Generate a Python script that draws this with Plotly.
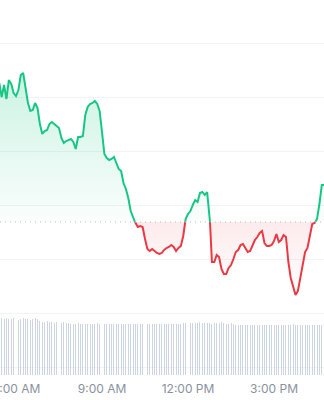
import datetime as dt
import plotly.graph_objects as go

# ---- data (5-minute samples) ----
start_time = dt.datetime(2024, 5, 14, 5, 25)
step_minutes = 5

prices = [
    3230, 3216, 3228, 3214, 3233, 3229, 3220, 3217, 3223, 3238,
    3240, 3227, 3210, 3202, 3203, 3210, 3205, 3189, 3179, 3182,
    3183, 3189, 3191, 3189, 3187, 3185, 3175, 3170, 3172, 3173,
    3174, 3171, 3164, 3176, 3176, 3177, 3198, 3206, 3209, 3210,
    3212, 3209, 3202, 3181, 3159, 3155, 3153, 3154, 3156, 3150,
    3144, 3142, 3130, 3124, 3115, 3102, 3095, 3090, 3086, 3087,
    3086, 3074, 3064, 3062, 3064, 3062, 3060, 3059, 3060, 3063,
    3065, 3066, 3068, 3066, 3062, 3065, 3067, 3077, 3094, 3099,
    3102, 3108, 3113, 3111, 3120, 3121, 3118, 3121, 3101, 3051,
    3051, 3058, 3056, 3044, 3039, 3039, 3045, 3048, 3054, 3061,
    3063, 3068, 3069, 3065, 3061, 3062, 3067, 3073, 3076, 3080,
    3082, 3070, 3067, 3067, 3068, 3072, 3079, 3071, 3073, 3078,
    3076, 3051, 3035, 3025, 3018, 3022, 3036, 3048, 3061, 3065,
    3076, 3089, 3090, 3094, 3109, 3128, 3128,
]

volumes = [
    56, 57, 56, 57, 56, 56, 57, 56, 55, 56,
    57, 56, 56, 55, 56, 57, 56, 54, 53, 53,
    54, 53, 53, 52, 53, 53, 52, 53, 52, 52,
    51, 51, 51, 52, 51, 51, 51, 51, 51, 51,
    51, 52, 51, 51, 51, 51, 51, 51, 51, 51,
    51, 51, 51, 51, 51, 51, 51, 51, 51, 51,
    51, 51, 51, 51, 51, 51, 51, 51, 51, 51,
    51, 51, 51, 51, 51, 51, 51, 52, 52, 53,
    52, 52, 52, 52, 53, 52, 52, 52, 52, 51,
    52, 52, 52, 53, 52, 51, 51, 52, 51, 50,
    50, 50, 50, 50, 50, 50, 50, 50, 50, 50,
    50, 50, 50, 50, 50, 50, 50, 50, 50, 50,
    50, 50, 50, 51, 50, 50, 50, 50, 50, 50,
    50, 50, 50, 50, 50, 50, 50,
]

base_price = 3091

tick_times = ["2024-05-14 06:00", "2024-05-14 09:00", "2024-05-14 12:00", "2024-05-14 15:00"]
tick_labels = ["6:00 AM", "9:00 AM", "12:00 PM", "3:00 PM"]

x_range = ["2024-05-14 05:26:30", "2024-05-14 16:44:36"]

GREEN = "#16c784"
RED = "#ea3943"

times = [start_time + dt.timedelta(minutes=step_minutes * i) for i in range(len(prices))]

# insert exact crossing points with the base line so colours switch cleanly
xs, ys = [times[0]], [prices[0]]
for i in range(1, len(prices)):
    p0, p1 = prices[i - 1], prices[i]
    if (p0 - base_price) * (p1 - base_price) < 0:
        f = (base_price - p0) / (p1 - p0)
        xs.append(times[i - 1] + (times[i] - times[i - 1]) * f)
        ys.append(base_price)
    xs.append(times[i])
    ys.append(p1)

up_line = [y if y >= base_price else None for y in ys]
dn_line = [y if y <= base_price else None for y in ys]
up_fill = [max(y, base_price) for y in ys]
dn_fill = [min(y, base_price) for y in ys]
base_arr = [base_price] * len(xs)

fig = go.Figure()

# fills
fig.add_trace(go.Scatter(x=xs, y=base_arr, mode="lines", line=dict(width=0),
                         hoverinfo="skip", showlegend=False))
fig.add_trace(go.Scatter(x=xs, y=up_fill, mode="lines", line=dict(width=0),
                         fill="tonexty",
                         fillgradient=dict(type="vertical",
                                           colorscale=[[0, "rgba(22,199,132,0.02)"],
                                                       [1, "rgba(22,199,132,0.22)"]],
                                           start=base_price, stop=max(prices)),
                         hoverinfo="skip", showlegend=False))
fig.add_trace(go.Scatter(x=xs, y=base_arr, mode="lines", line=dict(width=0),
                         hoverinfo="skip", showlegend=False))
fig.add_trace(go.Scatter(x=xs, y=dn_fill, mode="lines", line=dict(width=0),
                         fill="tonexty",
                         fillgradient=dict(type="vertical",
                                           colorscale=[[0, "rgba(234,57,67,0.0)"],
                                                       [1, "rgba(234,57,67,0.10)"]],
                                           start=min(prices), stop=base_price),
                         hoverinfo="skip", showlegend=False))

# dotted base line
fig.add_shape(type="line", xref="paper", x0=0, x1=1, yref="y", y0=base_price, y1=base_price,
              line=dict(color="#b8bdc6", width=1, dash="1px,4px"))

# price lines
fig.add_trace(go.Scatter(x=xs, y=up_line, mode="lines", connectgaps=False,
                         line=dict(color=GREEN, width=2), hoverinfo="skip", showlegend=False))
fig.add_trace(go.Scatter(x=xs, y=dn_line, mode="lines", connectgaps=False,
                         line=dict(color=RED, width=2), hoverinfo="skip", showlegend=False))

# volume bars (overlaid axis, same plot area)
fig.add_trace(go.Bar(x=times, y=volumes, yaxis="y2", width=120000,
                     marker=dict(color="rgba(196,205,222,0.85)", line=dict(width=0)),
                     hoverinfo="skip"))

fig.update_layout(
    width=324, height=400,
    margin=dict(l=0, r=0, t=0, b=25, autoexpand=False),
    paper_bgcolor="white", plot_bgcolor="white",
    showlegend=False,
    bargap=0,
    font=dict(family="Inter, Roboto, sans-serif", size=12, color="#8a919e"),
    xaxis=dict(type="date", range=x_range, tickvals=tick_times, ticktext=tick_labels,
               showgrid=False, zeroline=False, showline=False, ticks="",
               automargin=False,
               ticklabeloverflow="allow", ticklabelstandoff=5,
               tickfont=dict(size=12, color="#8a919e"), fixedrange=True),
    yaxis=dict(range=[2938, 3313], tick0=3000, dtick=54, showticklabels=False,
               showgrid=True, gridcolor="#f2f3f5", gridwidth=1, zeroline=False,
               showline=False, ticks="", automargin=False, fixedrange=True),
    yaxis2=dict(overlaying="y", range=[0, 375], showticklabels=False,
                showgrid=False, zeroline=False, showline=False, ticks="",
                automargin=False, fixedrange=True),
)

fig.write_html("out.html")
